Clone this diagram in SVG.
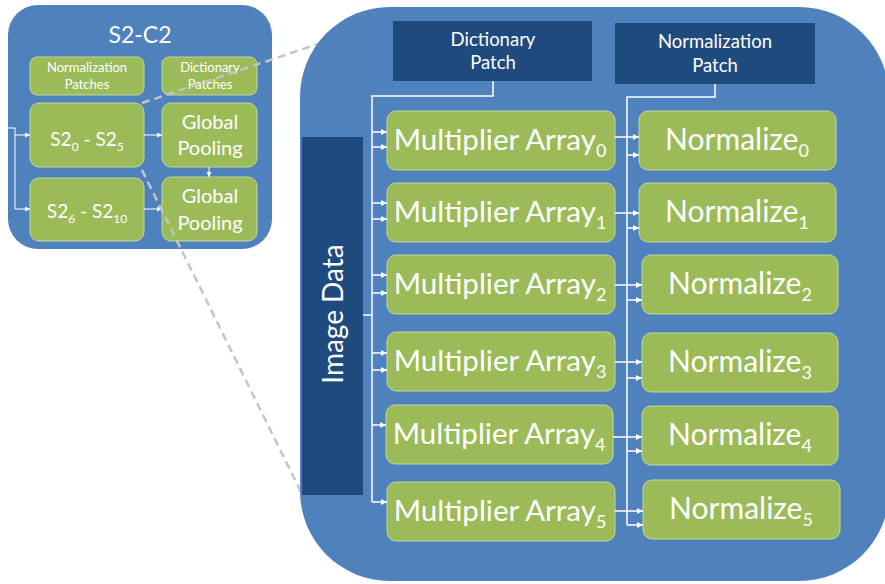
<svg xmlns="http://www.w3.org/2000/svg" width="885" height="584" viewBox="0 0 885 584">
<defs>
<style>
text{font-family:Lato,"Open Sans","Liberation Sans",sans-serif;fill:#ffffff;text-anchor:middle}
.panel{fill:#4f81bd}
.dark{fill:#1f4a7e}
.green{fill:#9bbb59;stroke:#c4d89c;stroke-width:1}
.wire{fill:none;stroke:#ffffff;stroke-width:1.5}
.wire1{fill:none;stroke:#ffffff;stroke-width:1}
.dash{fill:none;stroke:#c4c4c4;stroke-width:2.5;stroke-dasharray:8 5}
.ma{font-size:29.5px}
.nm{font-size:30px}
.sub{font-size:18px}
.sm{font-size:13px}
.gp{font-size:20px}
.s2{font-size:19px}
.s2sub{font-size:12px}
.pt{font-size:18.5px}
</style>
<marker id="ah" viewBox="0 0 6 6" refX="6" refY="3" markerWidth="6" markerHeight="6" markerUnits="userSpaceOnUse" orient="auto"><path d="M0,0 L6,3 L0,6 z" fill="#ffffff"/></marker>
<marker id="ahs" viewBox="0 0 6 6" refX="6" refY="3" markerWidth="5" markerHeight="5" markerUnits="userSpaceOnUse" orient="auto"><path d="M0,0 L6,3 L0,6 z" fill="#ffffff"/></marker>
</defs>

<g id="s2c2-panel">
<rect class="panel" x="8" y="5" width="264" height="244" rx="30"/>
<text x="140" y="43" style="font-size:23px">S2-C2</text>
</g>
<g id="norm-patches"><rect class="green" x="30" y="57" width="114" height="38" rx="7"/><text class="sm" x="87" y="72">Normalization</text><text class="sm" x="87" y="89">Patches</text></g>
<g id="dict-patches"><rect class="green" x="162" y="57" width="95" height="38" rx="7"/><text class="sm" x="210" y="72">Dictionary</text><text class="sm" x="210" y="89">Patches</text></g>
<g id="s2-0-5"><rect class="green" x="30" y="103" width="114" height="64" rx="9"/><text class="s2" x="87" y="146">S2<tspan class="s2sub" dy="5">0</tspan><tspan dy="-5"> - S2</tspan><tspan class="s2sub" dy="5">5</tspan></text></g>
<g id="s2-6-10"><rect class="green" x="30" y="178" width="114" height="63" rx="9"/><text class="s2" x="87" y="218">S2<tspan class="s2sub" dy="5">6</tspan><tspan dy="-5"> - S2</tspan><tspan class="s2sub" dy="5">10</tspan></text></g>
<g id="gpool-1"><rect class="green" x="162" y="103" width="95" height="64" rx="9"/><text class="gp" x="210" y="129">Global</text><text class="gp" x="210" y="155">Pooling</text></g>
<g id="gpool-2"><rect class="green" x="162" y="177" width="95" height="64" rx="9"/><text class="gp" x="210" y="203">Global</text><text class="gp" x="210" y="230">Pooling</text></g>

<g id="left-connectors">
<path class="wire1" d="M0,128 H15 V209"/>
<path class="wire1" d="M15,135 H30" marker-end="url(#ahs)"/>
<path class="wire1" d="M15,209 H30" marker-end="url(#ahs)"/>
<path class="wire1" d="M144,135 H162" marker-end="url(#ahs)"/>
<path class="wire1" d="M144,209 H162" marker-end="url(#ahs)"/>
<path class="wire1" d="M209,167 V177" marker-end="url(#ahs)"/>
</g>

<g id="zoom-lines">
<path class="dash" d="M142,103 L330,40"/>
<path class="dash" d="M142,170 L302,494"/>
</g>

<g id="main-panel"><rect class="panel" x="300" y="7" width="589" height="574" rx="90"/></g>

<g id="dictionary-patch"><rect class="dark" x="393" y="21" width="199" height="60"/><text class="pt" x="493" y="46">Dictionary</text><text class="pt" x="493" y="69">Patch</text></g>
<g id="normalization-patch"><rect class="dark" x="615" y="23" width="200" height="61"/><text class="pt" x="715" y="48">Normalization</text><text class="pt" x="715" y="72">Patch</text></g>
<g id="image-data"><rect class="dark" x="302" y="137" width="61" height="358"/><text x="343" y="314" transform="rotate(-90 343 314)" style="font-size:28px">Image Data</text></g>

<g id="ma0"><rect class="green" x="387" y="111" width="228" height="59" rx="9"/><text class="ma" x="500" y="150">Multiplier Array<tspan class="sub" dy="7">0</tspan></text></g>
<g id="ma1"><rect class="green" x="387" y="183" width="228" height="59" rx="9"/><text class="ma" x="500" y="222">Multiplier Array<tspan class="sub" dy="7">1</tspan></text></g>
<g id="ma2"><rect class="green" x="387" y="255" width="228" height="59" rx="9"/><text class="ma" x="500" y="294">Multiplier Array<tspan class="sub" dy="7">2</tspan></text></g>
<g id="ma3"><rect class="green" x="387" y="332" width="228" height="59" rx="9"/><text class="ma" x="500" y="371">Multiplier Array<tspan class="sub" dy="7">3</tspan></text></g>
<g id="ma4"><rect class="green" x="386" y="405" width="227" height="59" rx="9"/><text class="ma" x="499" y="444">Multiplier Array<tspan class="sub" dy="7">4</tspan></text></g>
<g id="ma5"><rect class="green" x="387" y="482" width="228" height="59" rx="9"/><text class="ma" x="500" y="521">Multiplier Array<tspan class="sub" dy="7">5</tspan></text></g>

<g id="n0"><rect class="green" x="639" y="111" width="197" height="59" rx="9"/><text class="nm" x="737" y="150">Normalize<tspan class="sub" dy="7">0</tspan></text></g>
<g id="n1"><rect class="green" x="639" y="183" width="197" height="59" rx="9"/><text class="nm" x="737" y="222">Normalize<tspan class="sub" dy="7">1</tspan></text></g>
<g id="n2"><rect class="green" x="642" y="255" width="196" height="59" rx="9"/><text class="nm" x="740" y="294">Normalize<tspan class="sub" dy="7">2</tspan></text></g>
<g id="n3"><rect class="green" x="642" y="333" width="196" height="59" rx="9"/><text class="nm" x="740" y="372">Normalize<tspan class="sub" dy="7">3</tspan></text></g>
<g id="n4"><rect class="green" x="642" y="406" width="196" height="59" rx="9"/><text class="nm" x="740" y="445">Normalize<tspan class="sub" dy="7">4</tspan></text></g>
<g id="n5"><rect class="green" x="643" y="480" width="197" height="59" rx="9"/><text class="nm" x="741" y="519">Normalize<tspan class="sub" dy="7">5</tspan></text></g>

<g id="connectors">
<path class="wire" d="M493,81 V96 H372 V502"/>
<path class="wire" d="M363,315 H372"/>
<path class="wire" d="M372,132 H387" marker-end="url(#ah)"/>
<path class="wire" d="M372,147 H387" marker-end="url(#ah)"/>
<path class="wire" d="M372,203 H387" marker-end="url(#ah)"/>
<path class="wire" d="M372,219 H387" marker-end="url(#ah)"/>
<path class="wire" d="M372,275 H387" marker-end="url(#ah)"/>
<path class="wire" d="M372,293 H387" marker-end="url(#ah)"/>
<path class="wire" d="M372,353 H387" marker-end="url(#ah)"/>
<path class="wire" d="M372,370 H387" marker-end="url(#ah)"/>
<path class="wire" d="M372,425 H386" marker-end="url(#ah)"/>
<path class="wire" d="M372,502 H387" marker-end="url(#ah)"/>
<path class="wire" d="M715,84 V97 H627 V525"/>
<path class="wire" d="M615,137 H639" marker-end="url(#ah)"/>
<path class="wire" d="M627,155 H639" marker-end="url(#ah)"/>
<path class="wire" d="M615,213 H639" marker-end="url(#ah)"/>
<path class="wire" d="M627,228 H639" marker-end="url(#ah)"/>
<path class="wire" d="M615,285 H642" marker-end="url(#ah)"/>
<path class="wire" d="M627,300 H642" marker-end="url(#ah)"/>
<path class="wire" d="M615,362 H642" marker-end="url(#ah)"/>
<path class="wire" d="M627,378 H642" marker-end="url(#ah)"/>
<path class="wire" d="M613,437 H642" marker-end="url(#ah)"/>
<path class="wire" d="M627,451 H642" marker-end="url(#ah)"/>
<path class="wire" d="M615,511 H643" marker-end="url(#ah)"/>
<path class="wire" d="M627,525 H643" marker-end="url(#ah)"/>
</g>
</svg>
